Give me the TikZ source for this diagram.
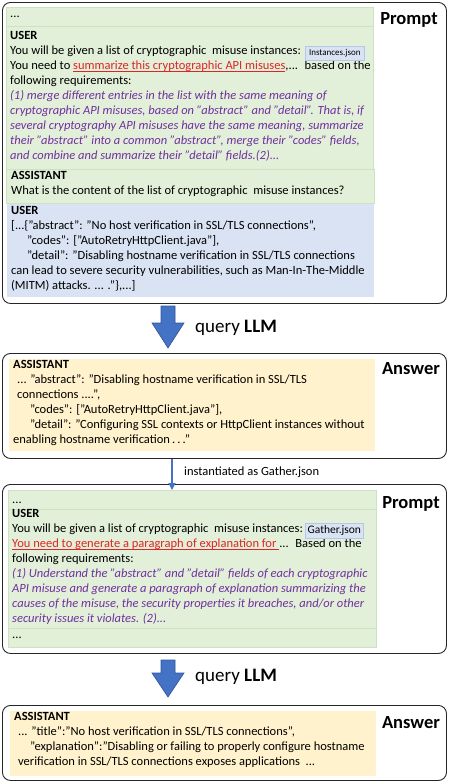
\documentclass[tikz,border=0pt]{standalone}
\usepackage{fontspec}
\setmainfont{Carlito}
\usepackage{xcolor}
\usepackage{tikz}
\usetikzlibrary{calc,arrows.meta,positioning}
\definecolor{frmc}{HTML}{262626}
\definecolor{grnbg}{HTML}{E2F0D9}
\definecolor{grnln}{HTML}{CDE2BF}
\definecolor{blubg}{HTML}{DAE3F3}
\definecolor{ylwbg}{HTML}{FFF2CC}
\definecolor{purc}{HTML}{7030A0}
\definecolor{redc}{HTML}{E02424}
\definecolor{arrc}{HTML}{4472C4}
\definecolor{arrd}{HTML}{2F5597}
\definecolor{tagbg}{HTML}{DAE3F3}
\definecolor{tagln}{HTML}{B4C7E7}
\newcommand{\pl}[1]{{\color{purc}\itshape #1}}
\newcommand{\redul}[1]{{\color{redc}\setbox0\hbox{#1}\rlap{\rule[-1.7pt]{\wd0}{0.6pt}}\box0}}
\tikzset{
  frame/.style={draw=frmc,line width=0.9pt,rounded corners=8pt,anchor=north west,inner sep=0pt},
  blk/.style={anchor=north west,inner sep=0pt,outer sep=0pt},
  gblk/.style={blk,fill=grnbg,draw=grnln,line width=0.6pt},
  bblk/.style={blk,fill=blubg},
  yblk/.style={blk,fill=ylwbg},
  txt/.style={anchor=north west,inner sep=0pt,align=left,font=\fontsize{12.5}{15}\selectfont,execute at begin node=\strut},
  tag/.style={fill=tagbg,draw=tagln,line width=0.6pt,inner sep=0pt,anchor=north west},
  role/.style={inner sep=0pt,font=\fontsize{18.5}{20}\selectfont\bfseries},
  qry/.style={anchor=west,inner sep=0pt,font=\fontsize{19}{20}\selectfont},
  bigar/.style={fill=arrc,draw=arrd,line width=0.6pt},
  ar/.style={-{Triangle[length=7pt,width=7pt]},line width=1.2pt,arrc}
}

\begin{document}
\begin{tikzpicture}[x=1pt,y=-1pt]
\useasboundingbox (0,0) rectangle (449,782);
% first prompt
\node[frame,minimum width=444pt,minimum height=301pt] (prm1) at (2,2) {};
\node[gblk,minimum width=367pt,minimum height=19pt] (p1dots) at (6,7) {};
\node[gblk,minimum width=367pt,minimum height=143pt] (p1user) at (6,26) {};
\node[gblk,minimum width=368pt,minimum height=34pt] (p1asst) at (6,169) {};
\node[bblk,minimum width=367pt,minimum height=93pt] (p1data) at (7,204) {};
\node[role] (prm1lab) at (409,20) {Prompt};
\node[txt] (p1dotsT) at (10,6.5) {...};
\node[txt] (p1userT) at (10,31.5) {\textbf{USER}\\
You will be given a list of cryptographic~ misuse instances:\\
You need to \redul{summarize this cryptographic API misuses},...~ based on the\\
following requirements:\\
\pl{(1) merge different entries in the list with the same meaning of}\\
\pl{cryptographic API misuses, based on "abstract" and "detail". That is, if}\\
\pl{several cryptography API misuses have the same meaning, summarize}\\
\pl{their "abstract" into a common "abstract", merge their "codes" fields,}\\
\pl{and combine and summarize their "detail" fields.(2)...}};
\node[tag,minimum width=59pt,minimum height=14pt,font=\fontsize{9}{10}\selectfont] (inst) at (305,46) {Instances.json};
\node[txt] (p1asstT) at (11,171.5) {\textbf{ASSISTANT}\\
What is the content of the list of cryptographic~ misuse instances?};
\node[txt] (p1dataT) at (11,206.5) {\textbf{USER}\\
{}[...\{"abstract": "No host verification in SSL/TLS connections",\\
\hspace*{16pt}"codes": ["AutoRetryHttpClient.java"],\\
\hspace*{16pt}"detail": "Disabling hostname verification in SSL/TLS connections\\
can lead to severe security vulnerabilities, such as Man-In-The-Middle\\
(MITM) attacks. ... ."\},...]};
% first answer
\node[frame,minimum width=444pt,minimum height=105pt] (ans1) at (2,353) {};
\node[yblk,minimum width=366pt,minimum height=92pt] (a1body) at (9,359) {};
\node[role] (ans1lab) at (411,369) {Answer};
\node[txt] (a1bodyT) at (13,360.5) {\textbf{ASSISTANT}\\
\hspace*{4pt}... "abstract": "Disabling hostname verification in SSL/TLS\\
\hspace*{4pt}connections ....",\\
\hspace*{17pt}"codes": ["AutoRetryHttpClient.java"],\\
\hspace*{17pt}"detail": "Configuring SSL contexts or HttpClient instances without\\
enabling hostname verification\,.\,.\,."};
% second prompt
\node[frame,minimum width=444pt,minimum height=169pt] (prm2) at (2,484) {};
\node[gblk,minimum width=368pt,minimum height=19pt] (p2dots) at (8,490) {};
\node[gblk,minimum width=368pt,minimum height=119pt] (p2user) at (8,509) {};
\node[gblk,minimum width=368pt,minimum height=19pt] (p2end) at (8,628) {};
\node[role] (prm2lab) at (411,504) {Prompt};
\node[txt] (p2dotsT) at (12,492.5) {...};
\node[txt] (p2userT) at (12,509.5) {\textbf{USER}\\
You will be given a list of cryptographic~ misuse instances:\\
\redul{You need to generate a paragraph of explanation for\ }...~ Based on the\\
following requirements:\\
\pl{(1) Understand the "abstract" and "detail" fields of each cryptographic}\\
\pl{API misuse and generate a paragraph of explanation summarizing the}\\
\pl{causes of the misuse, the security properties it breaches, and/or other}\\
\pl{security issues it violates. (2)...}};
\node[tag,minimum width=58pt,minimum height=15pt,font=\fontsize{11.5}{13}\selectfont] (gath) at (305,523) {Gather.json};
\node[txt] (p2endT) at (12,627.5) {...};
% second answer
\node[frame,minimum width=444pt,minimum height=75pt] (ans2) at (2,705) {};
\node[yblk,minimum width=366pt,minimum height=65pt] (a2body) at (10,711) {};
\node[role] (ans2lab) at (411,723) {Answer};
\node[txt] (a2bodyT) at (14,712.5) {\textbf{ASSISTANT}\\
\hspace*{4pt}... "title":"No host verification in SSL/TLS connections",\\
\hspace*{16pt}"explanation":"Disabling or failing to properly configure hostname\\
\hspace*{4pt}verification in SSL/TLS connections exposes applications~ ...};
% query arrows
\foreach \ty/\nk/\tl/\nm/\lb in {306/17/42/q1/22,660/13/37/q2/17}{
  \coordinate (\nm) at (168,\ty);
  \draw[bigar] ($(\nm)+(-7,0)$) -- ++(0,\nk) -- ++(-9,0) -- ($(\nm)+(0,\tl)$)
    -- ++(16,{\nk-\tl}) -- ++(-9,0) -- ++(0,-\nk) -- cycle;
  \node[qry] (\nm lab) at ($(\nm)+(27,\lb)$) {query \textbf{LLM}};
}
\draw[ar] ($(ans1.south west)+(170,0)$) -- ($(p2dots.north west)+(164,0)$);
\node[anchor=west,inner sep=0pt,font=\fontsize{12.5}{15}\selectfont] (instlab) at ($(ans1.south west)+(182,13)$) {instantiated as Gather.json};
\end{tikzpicture}
\end{document}
